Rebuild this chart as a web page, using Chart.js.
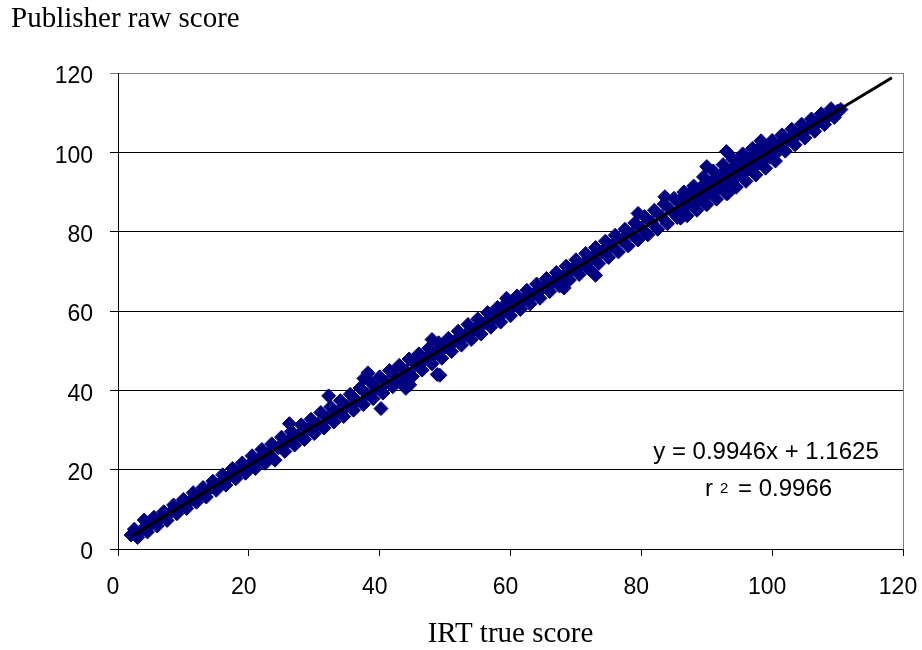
<!DOCTYPE html>
<html>
<head>
<meta charset="utf-8">
<title>Publisher raw score vs IRT true score</title>
<script src="https://cdn.jsdelivr.net/npm/chart.js@4.4.1/dist/chart.umd.min.js"></script>
<style>
  html, body { margin: 0; padding: 0; background: #fff; }
</style>
</head>
<body>
<canvas id="scoreChart" width="922" height="650"></canvas>
<script>
// IRT true score (x) and publisher raw score (y) for each examinee
const irtTrue = [
  2.0, 2.5, 3.0, 3.5, 4.0, 4.5, 5.0, 5.5, 6.0, 6.5,
  7.0, 7.5, 8.0, 8.5, 9.0, 9.5, 10.0, 10.5, 11.0, 11.5,
  12.0, 12.5, 13.0, 13.5, 14.0, 14.5, 15.0, 15.5, 16.0, 16.5,
  17.0, 17.5, 18.0, 18.5, 19.0, 19.5, 20.0, 20.5, 21.0, 21.5,
  22.0, 22.5, 23.0, 23.5, 24.0, 24.5, 25.0, 25.5, 26.0, 26.5,
  27.0, 27.5, 28.0, 28.5, 29.0, 29.5, 30.0, 30.5, 31.0, 31.5,
  32.0, 32.5, 33.0, 33.5, 34.0, 34.5, 35.0, 35.5, 36.0, 36.5,
  37.0, 37.5, 38.0, 38.5, 39.0, 39.5, 40.0, 40.5, 41.0, 41.5,
  42.0, 42.5, 43.0, 43.5, 44.0, 44.5, 45.0, 45.5, 46.0, 46.5,
  47.0, 47.5, 48.0, 48.5, 49.0, 49.5, 50.0, 50.5, 51.0, 51.5,
  52.0, 52.5, 53.0, 53.5, 54.0, 54.5, 55.0, 55.5, 56.0, 56.5,
  57.0, 57.5, 58.0, 58.5, 59.0, 59.5, 60.0, 60.5, 61.0, 61.5,
  62.0, 62.5, 63.0, 63.5, 64.0, 64.5, 65.0, 65.5, 66.0, 66.5,
  67.0, 67.5, 68.0, 68.5, 69.0, 69.5, 70.0, 70.5, 71.0, 71.5,
  72.0, 72.5, 73.0, 73.5, 74.0, 74.5, 75.0, 75.5, 76.0, 76.5,
  77.0, 77.5, 78.0, 78.5, 79.0, 79.5, 80.0, 80.5, 81.0, 81.5,
  82.0, 82.5, 83.0, 83.5, 84.0, 84.5, 85.0, 85.5, 86.0, 86.5,
  87.0, 87.5, 88.0, 88.5, 89.0, 89.5, 90.0, 90.5, 91.0, 91.5,
  92.0, 92.5, 93.0, 93.5, 94.0, 94.5, 95.0, 95.5, 96.0, 96.5,
  97.0, 97.5, 98.0, 98.5, 99.0, 99.5, 100.0, 100.5, 101.0, 101.5,
  102.0, 102.5, 103.0, 103.5, 104.0, 104.5, 105.0, 105.5, 106.0, 106.5,
  107.0, 107.5, 108.0, 108.5, 109.0, 109.5, 110.0, 110.5,
  // the wider stretch between 85 and 101
  85.7, 86.7, 87.7, 88.7, 89.7, 90.7, 91.7, 92.7, 93.7, 94.7,
  95.7, 96.7, 97.7, 98.7, 99.7, 100.7,
  86.2, 87.2, 88.2, 89.2, 90.2, 91.2, 92.2, 93.2, 94.2, 95.2,
  96.2, 97.2, 98.2, 99.2,
  // stragglers off the main band
  26.2, 32.2, 37.6, 38.2, 40.2, 44.0, 44.6, 48.0, 48.8, 49.2,
  59.4, 68.2, 73.0, 79.5, 83.6, 86.0, 90.0, 93.0, 93.2, 98.3
];
const rawScore = [
  3.5, 5.0, 2.9, 4.6, 7.3, 4.3, 6.3, 8.0, 5.8, 7.6,
  9.4, 7.2, 9.2, 11.1, 8.9, 10.7, 12.5, 10.2, 12.0, 14.2,
  11.8, 13.7, 15.5, 13.1, 15.2, 17.1, 14.8, 16.5, 18.7, 16.1,
  18.2, 20.3, 17.7, 19.5, 21.7, 19.1, 21.1, 23.5, 20.3, 22.7,
  25.1, 21.6, 24.0, 26.5, 22.4, 25.5, 28.2, 24.6, 27.1, 29.6,
  26.2, 28.6, 31.3, 27.6, 30.1, 32.7, 29.1, 31.4, 34.4, 30.5,
  33.0, 35.8, 32.0, 34.5, 37.4, 33.4, 36.0, 39.0, 35.0, 37.4,
  40.6, 36.4, 39.1, 42.2, 37.9, 40.5, 43.4, 39.3, 42.0, 45.0,
  40.9, 43.5, 46.3, 42.2, 44.9, 47.9, 43.5, 46.5, 49.2, 45.1,
  47.9, 50.6, 46.7, 49.4, 52.0, 48.1, 50.9, 53.1, 49.8, 52.5,
  54.9, 51.4, 53.8, 56.6, 52.8, 55.4, 58.0, 54.2, 56.9, 59.6,
  55.9, 58.4, 60.9, 57.2, 59.7, 62.2, 58.8, 61.4, 63.8, 60.4,
  62.9, 65.2, 61.8, 64.2, 66.8, 63.2, 65.9, 68.2, 64.9, 67.4,
  69.7, 66.3, 68.7, 71.3, 67.8, 70.5, 72.9, 69.2, 71.8, 74.5,
  70.6, 73.4, 76.0, 72.0, 74.9, 77.6, 73.5, 76.4, 79.1, 74.9,
  77.9, 80.6, 76.4, 79.4, 82.2, 77.9, 80.9, 83.8, 79.2, 82.4,
  85.4, 80.6, 83.9, 87.0, 82.0, 85.4, 88.4, 83.6, 86.9, 90.0,
  84.0, 88.4, 91.5, 85.4, 89.9, 93.8, 86.8, 91.4, 95.3, 88.2,
  92.8, 96.9, 89.6, 94.3, 98.3, 91.2, 95.8, 99.6, 92.7, 97.3,
  101.0, 94.3, 98.7, 101.7, 96.0, 100.2, 103.0, 97.8, 101.8, 104.4,
  100.3, 103.2, 105.8, 101.9, 104.6, 107.1, 103.6, 106.1, 108.4, 105.3,
  107.5, 109.7, 107.0, 109.0, 111.0, 108.8, 110.4, 110.8,
  84.9, 85.9, 86.8, 87.9, 88.8, 89.9, 90.8, 91.9, 92.8, 93.9,
  94.8, 95.9, 96.8, 97.9, 98.8, 99.9,
  88.4, 89.3, 90.4, 91.3, 92.4, 93.3, 94.4, 95.3, 96.4, 97.3,
  98.4, 99.3, 100.3, 101.3,
  31.6, 38.6, 43.0, 44.4, 35.4, 40.5, 41.4, 52.8, 44.0, 43.8,
  63.2, 65.8, 69.0, 84.6, 88.8, 83.4, 96.4, 100.2, 89.6, 102.9
];

// linear fit reported on the chart
const fitSlope = 0.9946;
const fitIntercept = 1.1625;
const fitR2 = 0.9966;
const fitRange = [2.0, 118.3];

const tickValues = [0, 20, 40, 60, 80, 100, 120];

const points = irtTrue.map((x, i) => ({ x: x, y: rawScore[i] }));
const fitLine = fitRange.map(x => ({ x: x, y: fitSlope * x + fitIntercept }));

const sans = '"Liberation Sans", Arial, sans-serif';
const serif = '"Liberation Serif", "Times New Roman", serif';

// titles, equation box and the grey frame on the right
const annotations = {
  id: 'annotations',
  beforeDatasetsDraw(chart) {
    const { ctx, chartArea: a } = chart;
    ctx.save();
    ctx.strokeStyle = '#808080';
    ctx.lineWidth = 1;
    ctx.beginPath();
    ctx.moveTo(Math.round(a.right) + 0.5, a.top);
    ctx.lineTo(Math.round(a.right) + 0.5, a.bottom);
    ctx.stroke();
    ctx.restore();
  },
  afterDraw(chart) {
    const { ctx, chartArea: a } = chart;
    ctx.save();
    ctx.fillStyle = '#000';
    ctx.textBaseline = 'alphabetic';

    ctx.font = '29px ' + serif;
    ctx.textAlign = 'left';
    ctx.fillText('Publisher raw score', 11, 27);
    ctx.textAlign = 'center';
    ctx.fillText('IRT true score', (a.left + a.right) / 2, 642);

    ctx.font = '24px ' + sans;
    ctx.fillText('y = ' + fitSlope + 'x + ' + fitIntercept, 766, 459);

    ctx.textAlign = 'left';
    ctx.fillText('r', 705, 496);
    ctx.font = '15px ' + sans;
    ctx.fillText('2', 720, 493);
    ctx.font = '24px ' + sans;
    ctx.fillText('= ' + fitR2, 738, 496);
    ctx.restore();
  }
};

new Chart(document.getElementById('scoreChart').getContext('2d'), {
  type: 'scatter',
  data: {
    datasets: [
      {
        type: 'line',
        label: 'Linear fit',
        data: fitLine,
        borderColor: '#000',
        borderWidth: 3,
        pointRadius: 0,
        fill: false,
        order: 0
      },
      {
        label: 'Scores',
        data: points,
        pointStyle: 'rectRot',
        pointRadius: 7,
        pointBackgroundColor: '#000080',
        pointBorderColor: '#000080',
        pointBorderWidth: 1,
        order: 1
      }
    ]
  },
  options: {
    responsive: false,
    animation: false,
    layout: { padding: { top: 73, right: 0, left: 0, bottom: 0 } },
    plugins: {
      legend: { display: false },
      tooltip: { enabled: false }
    },
    scales: {
      x: {
        type: 'linear',
        min: 0,
        max: 120,
        afterFit: s => {
          s.height = 101;
          // keep the plot frame at a fixed right edge
          s.paddingLeft = 0;
          s.paddingRight = 19;
        },
        afterBuildTicks: s => { s.ticks = tickValues.map(v => ({ value: v })); },
        grid: { drawOnChartArea: false, drawTicks: true, tickLength: 7, color: '#000' },
        border: { display: true, color: '#000', width: 1 },
        ticks: {
          color: '#000',
          font: { family: sans, size: 23 },
          padding: 18,
          labelOffset: -5,
          maxRotation: 0
        }
      },
      y: {
        type: 'linear',
        min: 0,
        max: 120,
        afterFit: s => { s.width = 118; },
        afterBuildTicks: s => { s.ticks = tickValues.map(v => ({ value: v })); },
        grid: {
          color: ctx => (ctx.tick && ctx.tick.value === 120 ? '#808080' : '#000'),
          tickLength: 8
        },
        border: { display: true, color: '#000', width: 1 },
        ticks: {
          color: '#000',
          font: { family: sans, size: 23 },
          padding: 17,
          labelOffset: 4
        }
      }
    }
  },
  plugins: [annotations]
});
</script>
</body>
</html>
